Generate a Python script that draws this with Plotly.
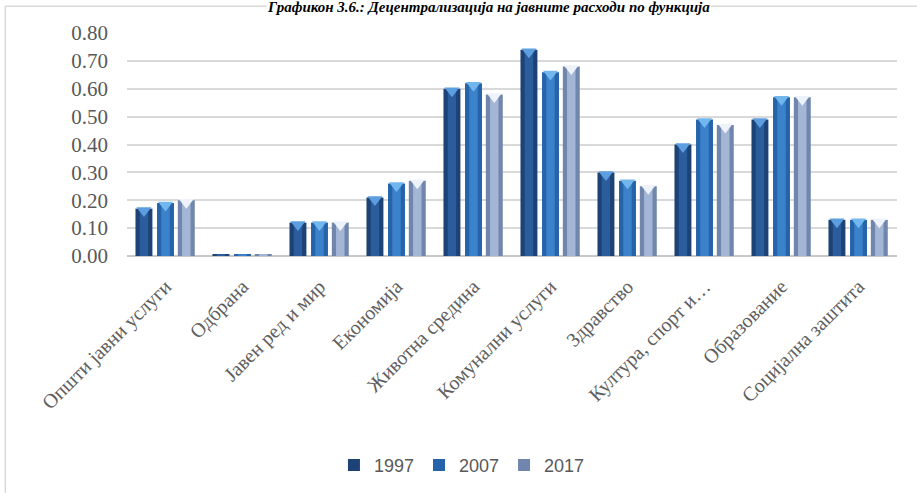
import plotly.graph_objects as go

# Categories (functions) and values per year
categories = [
    "Општи јавни услуги", "Одбрана", "Јавен ред и мир", "Економија",
    "Животна средина", "Комунални услуги", "Здравство",
    "Култура, спорт и…", "Образование", "Социјална заштита",
]
years = ["1997", "2007", "2017"]
values_1997 = [0.17, 0.004, 0.12, 0.21, 0.60, 0.74, 0.30, 0.40, 0.49, 0.13]
values_2007 = [0.19, 0.005, 0.12, 0.26, 0.62, 0.66, 0.27, 0.49, 0.57, 0.13]
values_2017 = [0.20, 0.005, 0.12, 0.27, 0.58, 0.68, 0.25, 0.47, 0.57, 0.13]
y_ticks = [0.0, 0.1, 0.2, 0.3, 0.4, 0.5, 0.6, 0.7, 0.8]

series = [values_1997, values_2007, values_2017]
offsets = [-0.28, 0.0, 0.27]
edge_colors = ["#1d4275", "#2563aa", "#7086ac"]
core_colors = ["#2b5c9c", "#3b82cb", "#a4b6d6"]
tip_colors = ["#5c9ee0", "#72b6ee", "#eef3fb"]
BAR_W = 0.22

fig = go.Figure()
xs_base = list(range(len(categories)))
for name, vals, off, ec, cc, tc in zip(years, series, offsets, edge_colors, core_colors, tip_colors):
    xs = [i + off for i in xs_base]
    # outer bar (darker edges)
    fig.add_trace(go.Bar(x=xs, y=vals, width=BAR_W, name=name, marker=dict(color=ec, line=dict(width=0)),
                         showlegend=True, legendgroup=name))
    # lighter core for a rounded look
    fig.add_trace(go.Bar(x=xs, y=vals, width=BAR_W * 0.5, marker=dict(color=cc, line=dict(width=0)),
                         showlegend=False, legendgroup=name, hoverinfo="skip"))
    # bevelled top
    fig.add_trace(go.Scatter(x=xs, y=[v - 0.007 if v > 0.02 else None for v in vals], mode="markers",
                             marker=dict(symbol="triangle-down", size=13, color=tc, line=dict(width=0)),
                             showlegend=False, legendgroup=name, hoverinfo="skip"))

axis_font = dict(family="Liberation Serif", size=21, color="#595959")

fig.update_layout(
    width=917, height=493,
    margin=dict(l=127, r=20, t=33, b=236),
    barmode="overlay",
    plot_bgcolor="white", paper_bgcolor="white",
    xaxis=dict(
        range=[-0.5, len(categories) - 0.5],
        tickmode="array", tickvals=xs_base, ticktext=categories,
        tickangle=-45, tickfont=dict(family="Liberation Serif", size=20, color="#5f5f5f"),
        showgrid=False, zeroline=False, showline=False, ticks="", ticklabelstandoff=14,
    ),
    yaxis=dict(
        range=[0, 0.8005], tickmode="array", tickvals=y_ticks,
        ticktext=[f"{t:.2f}" for t in y_ticks],
        tickfont=axis_font, showgrid=True, gridcolor="#d9d9d9", gridwidth=1.5,
        zeroline=True, zerolinecolor="#c8c8c8", zerolinewidth=2,
        showline=False, ticks="", ticklabelstandoff=18,
    ),
    legend=dict(
        orientation="h", x=0.435, xanchor="center", y=-0.93, yanchor="middle",
        font=dict(family="Liberation Sans", size=18, color="#595959"),
        itemwidth=30, traceorder="normal",
    ),
    shapes=[dict(type="rect", xref="paper", yref="paper",
                 x0=-0.158, x1=1.2, y0=-1.2, y1=1.1205,
                 line=dict(color="#d9d9d9", width=1.5), fillcolor="rgba(0,0,0,0)", layer="below")],
    annotations=[dict(
        text="<b><i>Графикон 3.6.: Децентрализација на јавните расходи по функција</i></b>",
        xref="paper", yref="paper", x=0.469, y=1.075, xanchor="center", yanchor="bottom",
        bgcolor="white", borderpad=0,
        showarrow=False, font=dict(family="Liberation Serif", size=15, color="black"),
    )],
)

fig.write_html("out.html")
